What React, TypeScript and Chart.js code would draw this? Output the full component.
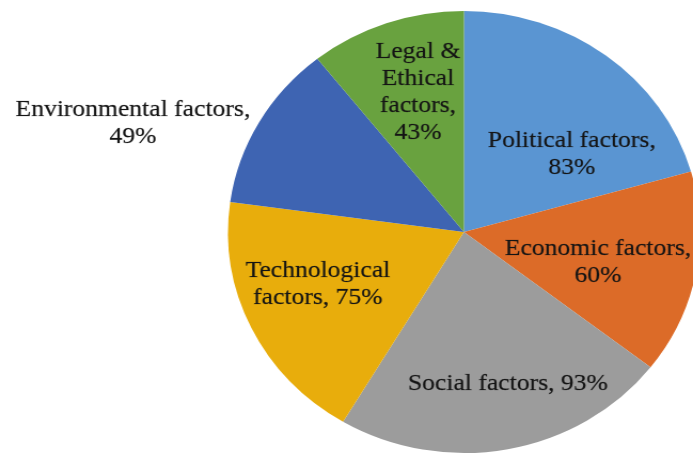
import React, { useEffect, useRef } from "react";
import { Chart, registerables } from "chart.js";

Chart.register(...registerables);

const categories = [
  "Political factors",
  "Economic factors",
  "Social factors",
  "Technological factors",
  "Environmental factors",
  "Legal & Ethical factors",
];
const values = [83, 60, 93, 75, 49, 43];
const labelLines = [
  ["Political factors,", "83%"],
  ["Economic factors,", "60%"],
  ["Social factors, 93%"],
  ["Technological", "factors, 75%"],
  ["Environmental factors,", "49%"],
  ["Legal &", "Ethical", "factors,", "43%"],
];
const colors = ["#5A95D2", "#DC6B28", "#9C9C9C", "#E8AD0C", "#3E64B2", "#69A23F"];
// label anchor, as fractions of the pie radius relative to its centre
const labelAnchor = [
  [0.457, -0.351],
  [0.568, 0.138],
  [0.186, 0.688],
  [-0.619, 0.238],
  [-1.403, -0.493],
  [-0.195, -0.631],
];

const STRETCH = 1.068;
const OUT_W = 693;
const OUT_H = 457;
const IN_W = Math.round(OUT_W / STRETCH);

const labelPlugin = {
  id: "sliceLabels",
  afterDraw(chart: any) {
    const meta = chart.getDatasetMeta(0);
    const arc0 = meta.data[0];
    if (!arc0) return;
    const cx = arc0.x;
    const cy = arc0.y;
    const r = arc0.outerRadius;
    const ctx = chart.ctx;
    ctx.save();
    ctx.font = '24px "Liberation Serif", "Times New Roman", serif';
    ctx.fillStyle = "#151515";
    ctx.strokeStyle = "rgba(21,21,21,0.35)";
    ctx.lineWidth = 0.6;
    ctx.textAlign = "center";
    ctx.textBaseline = "middle";
    const lh = 27;
    labelLines.forEach((lines, i) => {
      const ax = cx + labelAnchor[i][0] * r;
      const ay = cy + labelAnchor[i][1] * r;
      const top = ay - ((lines.length - 1) * lh) / 2;
      lines.forEach((t, j) => {
        ctx.fillText(t, ax, top + j * lh);
        ctx.strokeText(t, ax, top + j * lh);
      });
    });
    ctx.restore();
  },
};

export default function App() {
  const ref = useRef<HTMLCanvasElement>(null);
  useEffect(() => {
    const canvas = ref.current!;
    const chart = new Chart(canvas, {
      type: "pie",
      data: {
        labels: categories,
        datasets: [
          {
            data: values,
            backgroundColor: colors,
            borderWidth: 0,
          },
        ],
      },
      options: {
        responsive: false,
        animation: false,
        devicePixelRatio: 1,
        radius: 221,
        layout: { padding: { left: 220, right: 0, top: 7, bottom: 0 } },
        plugins: {
          legend: { display: false },
          tooltip: { enabled: false },
        },
      } as any,
      plugins: [labelPlugin],
    });
    return () => chart.destroy();
  }, []);
  return (
    <div
      style={{
        position: "fixed",
        left: 0,
        top: 0,
        width: OUT_W,
        height: OUT_H,
        background: "#fff",
        overflow: "hidden",
      }}
    >
      <canvas
        ref={ref}
        width={IN_W}
        height={OUT_H}
        style={{ width: OUT_W + "px", height: OUT_H + "px", display: "block" }}
      />
    </div>
  );
}
